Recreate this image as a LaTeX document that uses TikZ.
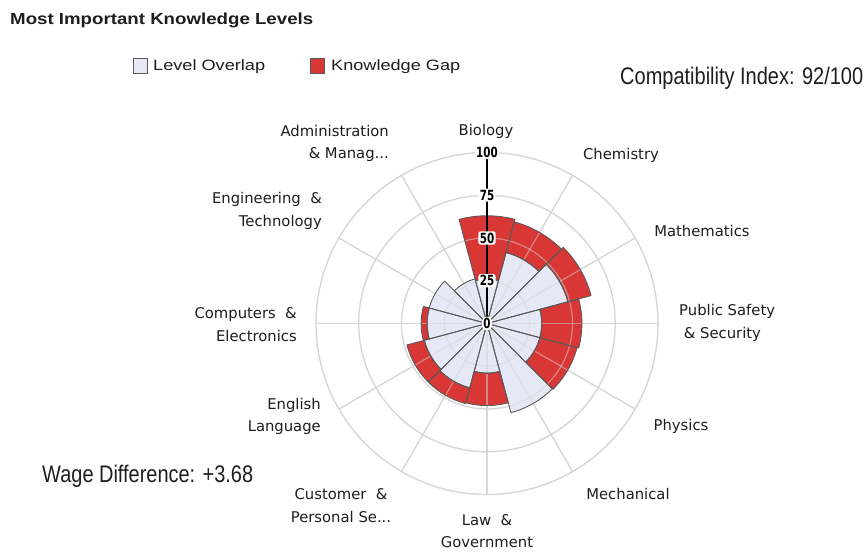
\documentclass[tikz,border=0pt]{standalone}
\usepackage{fontspec}
\usepackage{graphicx}
\setmainfont{DejaVu Sans}
\newfontfamily\arialf{Liberation Sans}
\definecolor{gapred}{RGB}{217,54,54}
\definecolor{ovl}{RGB}{230,232,245}
\definecolor{gridc}{RGB}{214,214,214}
\definecolor{edgec}{RGB}{90,90,90}
\definecolor{txt}{RGB}{30,30,30}
\begin{document}
\begin{tikzpicture}[x=1pt,y=1pt,
  cat/.style={font=\fontsize{14.8}{22.5}\selectfont, inner sep=0pt, text=txt},
  axlab/.style={fill=white, rounded corners=2pt, inner sep=1.3pt, font=\bfseries\fontsize{14}{14}\selectfont, text=black},
  gridline/.style={draw=gridc, line width=1.2pt},
  edge/.style={draw=edgec, line width=0.9pt},
  legbox/.style={draw=edgec, line width=0.9pt}]
\useasboundingbox (0,0) rectangle (867,553);
\fill[white] (0,0) rectangle (867,553);

% texts outside chart
\node[anchor=base west, inner sep=0pt, text=txt] (title) at (10,528)
  {\resizebox{303pt}{\height}{\arialf\bfseries\fontsize{16}{17}\selectfont Most Important Knowledge Levels}};
\draw[legbox, fill=ovl] (133,480) rectangle (147,495);
\node[anchor=base west, inner sep=0pt, text=txt] (leg1) at (153,482)
  {\resizebox{112pt}{\height}{\arialf\fontsize{15}{16}\selectfont Level Overlap}};
\draw[legbox, fill=gapred] (310,480) rectangle (324,495);
\node[anchor=base west, inner sep=0pt, text=txt] (leg2) at (331,482)
  {\resizebox{129pt}{\height}{\arialf\fontsize{15}{16}\selectfont Knowledge Gap}};
\node[anchor=base west, inner sep=0pt, text=txt] (compat) at (620,468)
  {\resizebox{243pt}{\height}{\arialf\fontsize{24}{26}\selectfont Compatibility Index: 92/100}};
\node[anchor=base west, inner sep=0pt, text=txt] (wage) at (42,70)
  {\resizebox{211pt}{\height}{\arialf\fontsize{24}{26}\selectfont Wage Difference: +3.68}};

\begin{scope}[shift={(487,229.5)}]
  % grid
  \foreach \r in {25,50,75,100} \draw[gridline] (0,0) circle[radius=\r*1.71];
  \foreach \a in {0,30,...,330} \draw[gridline] (0,0) -- (\a:171);
  % overlap wedges
  \foreach \a/\o in {90/26,60/43,30/49,0/32,-30/32,-60/54,-90/29,-120/39,-150/38,180/35,150/35,120/27}
    \fill[ovl] (0,0) -- (\a-15:\o*1.71) arc[start angle=\a-15, end angle=\a+15, radius=\o*1.71] -- cycle;
  % gap sectors
  \foreach \a/\o/\t in {90/26/63,60/43/61.5,30/49/63,0/32/55.5,-30/32/54.5,-90/29/48,-120/39/48.5,-150/38/48.5,180/35/38.5}
    \fill[gapred] (\a-15:\o*1.71) arc[start angle=\a-15, end angle=\a+15, radius=\o*1.71]
      -- (\a+15:\t*1.71) arc[start angle=\a+15, end angle=\a-15, radius=\t*1.71] -- cycle;
  % grid seen through
  \begin{scope}[opacity=0.5]
    \foreach \r in {25,50,75,100} \draw[gridline] (0,0) circle[radius=\r*1.71];
    \foreach \a in {0,30,...,330} \draw[gridline] (0,0) -- (\a:171);
  \end{scope}
  % outlines
  \foreach \a/\o in {90/26,60/43,30/49,0/32,-30/32,-60/54,-90/29,-120/39,-150/38,180/35,150/35,120/27}
    \draw[edge, line join=round] (0,0) -- (\a-15:\o*1.71) arc[start angle=\a-15, end angle=\a+15, radius=\o*1.71] -- cycle;
  \foreach \a/\o/\t in {90/26/63,60/43/61.5,30/49/63,0/32/55.5,-30/32/54.5,-90/29/48,-120/39/48.5,-150/38/48.5,180/35/38.5}
    \draw[edge, line join=round] (\a-15:\o*1.71) arc[start angle=\a-15, end angle=\a+15, radius=\o*1.71]
      -- (\a+15:\t*1.71) arc[start angle=\a+15, end angle=\a-15, radius=\t*1.71] -- cycle;
  % axis
  \draw[black, line width=1.1pt] (0,0) -- (90:171);
  \foreach \v in {25,50,75,100}
    \node[axlab] (ax\v) at (90:\v*1.71) {\scalebox{0.74}[1]{\v}};
  \node[axlab, rounded corners=5pt, inner sep=1.6pt] (ax0) at (0,0) {\scalebox{0.74}[1]{0}};
\end{scope}

% category labels
\node[cat] (bio) at (486,422) {Biology};
\node[cat] (chem) at (621,398) {Chemistry};
\node[cat] (math) at (702,322) {Mathematics};
\node[cat, anchor=west, align=left] (pub) at (679,230) {Public Safety\\\ \& Security};
\node[cat] (phys) at (681,127) {Physics};
\node[cat] (mech) at (628,59) {Mechanical};
\node[cat, align=center] (law) at (487,22) {Law \ \&\\Government};
\node[cat, align=center] (cust) at (341,47.5) {Customer \ \&\\Personal Se...};
\node[cat, anchor=east, align=right] (eng) at (321,136.5) {English\\Language};
\node[cat, anchor=east, align=right] (comp) at (297,228.5) {Computers \ \&\\Electronics};
\node[cat, anchor=east, align=right] (engt) at (322,342) {Engineering \ \&\\Technology};
\node[cat, anchor=east, align=right] (adm) at (389,409.5) {Administration\\\& Manag...};
\end{tikzpicture}
\end{document}
